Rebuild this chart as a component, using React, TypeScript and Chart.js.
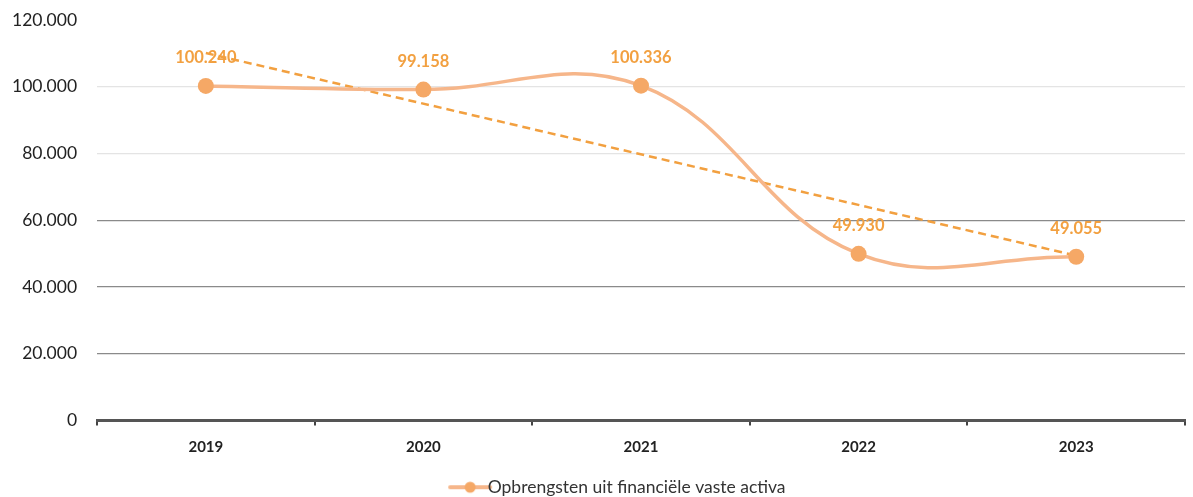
import React, { useEffect, useRef } from "react";
import { Chart, registerables } from "chart.js";

Chart.register(...registerables);

const categories = ["2019", "2020", "2021", "2022", "2023"];
const revenue = [100240, 99158, 100336, 49930, 49055];
const trendline = [110100, null, null, null, 49400];
const yTicks = [0, 20000, 40000, 60000, 80000, 100000, 120000];
const seriesName = "Opbrengsten uit financiële vaste activa";

const LINE = "#F6B68A";
const POINT = "#F5A866";
const LABEL = "#F2A040";

function fmt(v: number): string {
  const s = Math.round(v).toString();
  return s.replace(/\B(?=(\d{3})+(?!\d))/g, ".");
}

const labelPlugin = {
  id: "valueLabels",
  afterDatasetsDraw(chart: any) {
    const meta = chart.getDatasetMeta(0);
    const ctx = chart.ctx;
    ctx.save();
    ctx.font = "bold 16.5px Lato, 'Open Sans', sans-serif";
    ctx.fillStyle = LABEL;
    ctx.textAlign = "center";
    ctx.textBaseline = "middle";
    meta.data.forEach((pt: any, i: number) => {
      ctx.fillText(fmt(revenue[i]), pt.x, pt.y - 28);
    });
    ctx.restore();
  },
};

const legendShift = {
  id: "legendShift",
  afterLayout(chart: any) {
    if (chart.legend) {
      chart.legend.left += 22;
      chart.legend.right += 22;
    }
  },
};

function legendIcon(): HTMLCanvasElement {
  const c = document.createElement("canvas");
  c.width = 46;
  c.height = 14;
  const g = c.getContext("2d")!;
  g.strokeStyle = LINE;
  g.lineWidth = 4;
  g.lineCap = "round";
  g.beginPath();
  g.moveTo(3, 7);
  g.lineTo(43, 7);
  g.stroke();
  g.fillStyle = POINT;
  g.beginPath();
  g.arc(23, 7, 5.5, 0, Math.PI * 2);
  g.fill();
  return c;
}

export default function App() {
  const ref = useRef<HTMLCanvasElement>(null);
  useEffect(() => {
    if (!ref.current) return;
    const icon = legendIcon();
    const chart = new Chart(ref.current, {
      type: "line",
      data: {
        labels: categories,
        datasets: [
          {
            label: seriesName,
            data: revenue,
            borderColor: LINE,
            backgroundColor: POINT,
            borderWidth: 3.5,
            pointRadius: 8,
            pointBackgroundColor: POINT,
            pointBorderColor: POINT,
            pointBorderWidth: 0,
            tension: 0.4,
          },
          {
            label: "trend",
            data: trendline as any,
            borderColor: LABEL,
            borderWidth: 2.5,
            borderDash: [8, 5],
            pointRadius: 0,
            spanGaps: true,
            tension: 0,
          },
        ],
      },
      options: {
        animation: false,
        responsive: true,
        maintainAspectRatio: false,
        layout: { padding: { top: 20, left: 10, right: 0, bottom: -9 } },
        scales: {
          x: {
            offset: true,
            afterFit: (scale: any) => {
              scale.height = 58;
            },
            grid: {
              display: true,
              offset: true,
              drawOnChartArea: false,
              drawTicks: true,
              tickLength: 5,
              color: "#444",
              lineWidth: 2,
            },
            border: { display: true, color: "#555", width: 3 },
            ticks: {
              color: "#222",
              font: { family: "Lato, 'Open Sans', sans-serif", size: 15, weight: "bold" },
              padding: 13,
            },
          },
          y: {
            min: 0,
            max: 120000,
            afterBuildTicks: (axis: any) => {
              axis.ticks = yTicks.map((v) => ({ value: v }));
            },
            grid: {
              drawTicks: true,
              tickLength: 18,
              tickColor: "rgba(0,0,0,0)",
              color: (c: any) => {
                const v = c.tick ? c.tick.value : 0;
                if (v >= 120000) return "rgba(0,0,0,0)";
                if (v >= 80000) return "#e4e4e4";
                if (v === 0) return "rgba(0,0,0,0)";
                return "#8a8a8a";
              },
              lineWidth: 1.2,
            },
            border: { display: false },
            ticks: {
              color: "#222",
              font: { family: "Lato, 'Open Sans', sans-serif", size: 17.5 },
              padding: 2,
              callback: (v: any) => fmt(Number(v)),
            },
          },
        },
        plugins: {
          legend: {
            position: "bottom",
            labels: {
              usePointStyle: true,
              pointStyle: icon as any,
              color: "#333",
              font: { family: "Lato, 'Open Sans', sans-serif", size: 17.5 },
              padding: 0,
              filter: (item: any) => item.datasetIndex === 0,
            },
          },
          tooltip: { enabled: false },
        },
      },
      plugins: [labelPlugin, legendShift],
    });
    return () => chart.destroy();
  }, []);
  return (
    <div style={{ position: "absolute", left: 0, top: 0, width: 1193, height: 497 }}>
      <canvas ref={ref} />
    </div>
  );
}
